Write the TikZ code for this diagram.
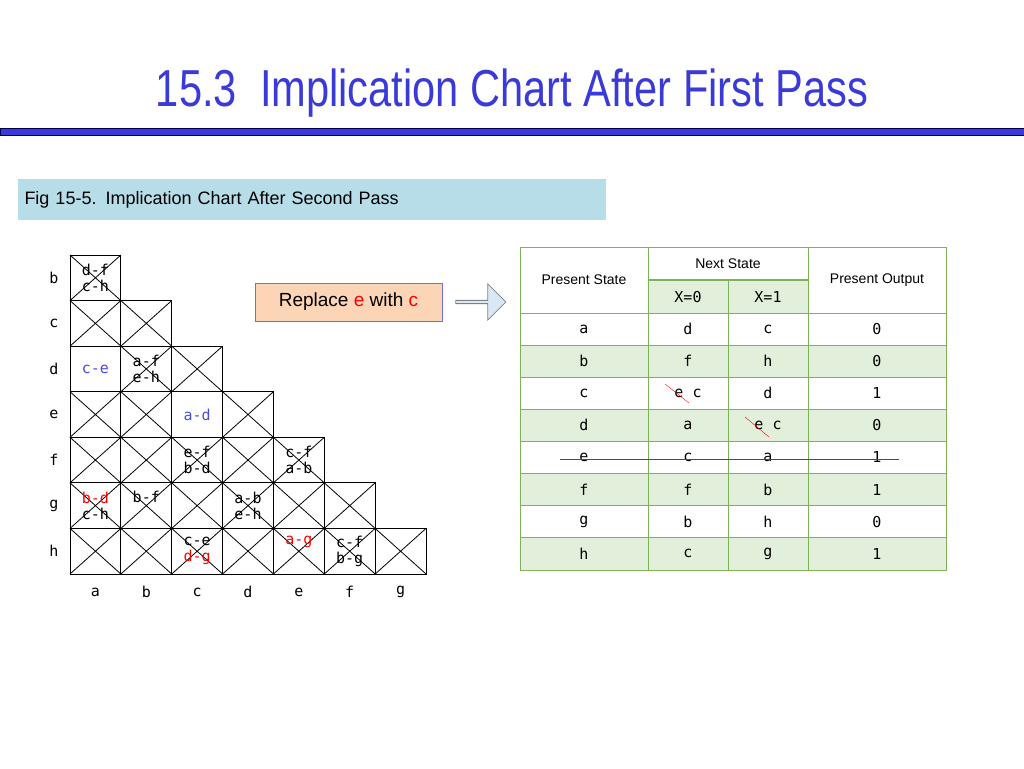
\documentclass[tikz,border=0pt]{standalone}
\usepackage{fontspec}
\setmainfont{Liberation Sans}
\newfontfamily\monof{DejaVu Sans Mono}
\newfontfamily\titlef[FakeStretch=0.8]{Liberation Sans}
\usetikzlibrary{shapes.arrows}
\definecolor{ttl}{HTML}{3A3AD8}
\definecolor{gfill}{HTML}{E2EFDA}
\definecolor{gline}{HTML}{7DB356}
\definecolor{capbg}{HTML}{B7DEE8}
\definecolor{peach}{HTML}{FBD5B5}
\definecolor{lblue}{HTML}{DAE8F5}
\definecolor{myblue}{HTML}{4A4AE0}
\tikzset{
 mono/.style={font=\monof\fontsize{15}{16}\selectfont, inner sep=0pt},
 lab/.style={font=\monof\fontsize{15}{16}\selectfont},
 hdr/.style={font=\fontsize{14}{16}\selectfont},
}
\begin{document}
\begin{tikzpicture}[x=1pt,y=-1pt]
\useasboundingbox (0,0) rectangle (1024,768);
\node[text=ttl,font=\titlef\fontsize{52}{56}\selectfont] (title) at (512,93) {15.3\ \ Implication Chart After First Pass};
\draw[fill=ttl,draw=black!70!blue] (0,128) rectangle (1024,135);
\node[fill=capbg,minimum width=588,minimum height=41,inner sep=0,text width=575,align=left,font=\fontsize{18}{20}\selectfont] (cap) at (312,199.5) {Fig 15-5. Implication Chart After Second Pass};
% chart
\def\cw{50.86}\def\rh{45.57}
\foreach \r [count=\i from 1] in {b,c,d,e,f,g,h}{
  \node[lab] (r\r) at (54,{255+(\i-0.5)*\rh}) {\r};
  \foreach \j in {1,...,\i}{
    \draw[line width=0.9pt] ({70+(\j-1)*\cw},{255+(\i-1)*\rh}) rectangle ({70+\j*\cw},{255+\i*\rh});
  }
}
\foreach \c [count=\j from 1] in {a,b,c,d,e,f,g}{
  \node[lab] (c\c) at ({70+(\j-0.5)*\cw},592) {\c};
}
% crosses (row index, col index)
\foreach \i/\j in {1/1,2/1,2/2,3/2,3/3,4/1,4/2,4/4,5/1,5/2,5/3,5/4,5/5,6/1,6/2,6/3,6/4,6/5,6/6,7/1,7/2,7/3,7/4,7/5,7/6,7/7}{
  \draw[line width=0.8pt] ({70+(\j-1)*\cw},{255+(\i-1)*\rh}) -- ({70+\j*\cw},{255+\i*\rh})
    ({70+\j*\cw},{255+(\i-1)*\rh}) -- ({70+(\j-1)*\cw},{255+\i*\rh});
}
\newcommand\cellt[5]{% row col line1 line2 colors
  \node[mono,align=center] at ({70+(#2-0.5)*\cw},{255+(#1-0.5)*\rh}) {#3\\#4};}
\node[mono,align=center] (t1) at ({70+0.5*\cw},{255+0.5*\rh}) {d-f\\c-h};
\node[mono,text=myblue] (t2) at ({70+0.5*\cw},{255+2.5*\rh}) {c-e};
\node[mono,align=center] (t3) at ({70+1.5*\cw},{255+2.5*\rh}) {a-f\\e-h};
\node[mono,text=myblue] (t4) at ({70+2.5*\cw},{255+3.5*\rh}) {a-d};
\node[mono,align=center] (t5) at ({70+2.5*\cw},{255+4.5*\rh}) {e-f\\b-d};
\node[mono,align=center] (t6) at ({70+4.5*\cw},{255+4.5*\rh}) {c-f\\a-b};
\node[mono,align=center] (t7) at ({70+0.5*\cw},{255+5.5*\rh}) {\textcolor{red}{b-d}\\c-h};
\node[mono] (t8) at ({70+1.5*\cw},{255+5.3*\rh}) {b-f};
\node[mono,align=center] (t9) at ({70+3.5*\cw},{255+5.5*\rh}) {a-b\\e-h};
\node[mono,align=center] (t10) at ({70+2.5*\cw},{255+6.5*\rh}) {c-e\\\textcolor{red}{d-g}};
\node[mono,text=red] (t11) at ({70+4.5*\cw},{255+6.3*\rh}) {a-g};
\node[mono,align=center] (t12) at ({70+5.5*\cw},{255+6.5*\rh}) {c-f\\b-g};
% replace box and arrow
\node[fill=peach,draw=myblue!80,line width=0.8pt,minimum width=187,minimum height=38,font=\fontsize{19}{21}\selectfont] (rep) at (348.5,302) {Replace \textcolor{red}{e} with \textcolor{red}{c}};
\node[single arrow,draw=gray,fill=lblue,line width=0.8pt,minimum width=36,single arrow head extend=4,minimum height=50,inner sep=0] (arr) at (480,302) {};
% table
\def\X{{520,648,728,808,946}}
\fill[gfill] (648,280) rectangle (808,313);
\foreach \k in {1,3,5,7}{ \fill[gfill] (520,{313+\k*32.1}) rectangle (946,{313+(\k+1)*32.1}); }
\draw[gline,line width=1pt] (520,247) rectangle (946,570);
\draw[gline,line width=1pt] (648,247) -- (648,570) (808,247) -- (808,570) (728,280) -- (728,570);
\draw[gline,line width=2pt] (648,280) -- (808,280);
\foreach \k in {0,...,7}{ \draw[gline,line width=1pt] (520,{313+\k*32.1}) -- (946,{313+\k*32.1}); }
\node[hdr] (hps) at (584,280) {Present State};
\node[hdr] (hns) at (728,264) {Next State};
\node[hdr] (hpo) at (877,280) {Present Output};
\node[lab] (hx0) at (688,297) {X=0};
\node[lab] (hx1) at (768,297) {X=1};
\foreach \a/\b/\c/\d [count=\k from 0] in {a/d/c/0,b/f/h/0,c/{e\ c}/d/1,d/a/{e\ c}/0,e/c/a/1,f/f/b/1,g/b/h/0,h/c/g/1}{
  \node[lab] at (584,{313+(\k+0.5)*32.1}) {\a};
  \node[lab] at (688,{313+(\k+0.5)*32.1}) {\b};
  \node[lab] at (768,{313+(\k+0.5)*32.1}) {\c};
  \node[lab] at (877,{313+(\k+0.5)*32.1}) {\d};
}
\draw[red] (665,384) -- (689,403);
\draw[red] (745,417) -- (769,437);
\draw[red] (560,459) -- (899,459);
\end{tikzpicture}
\end{document}
